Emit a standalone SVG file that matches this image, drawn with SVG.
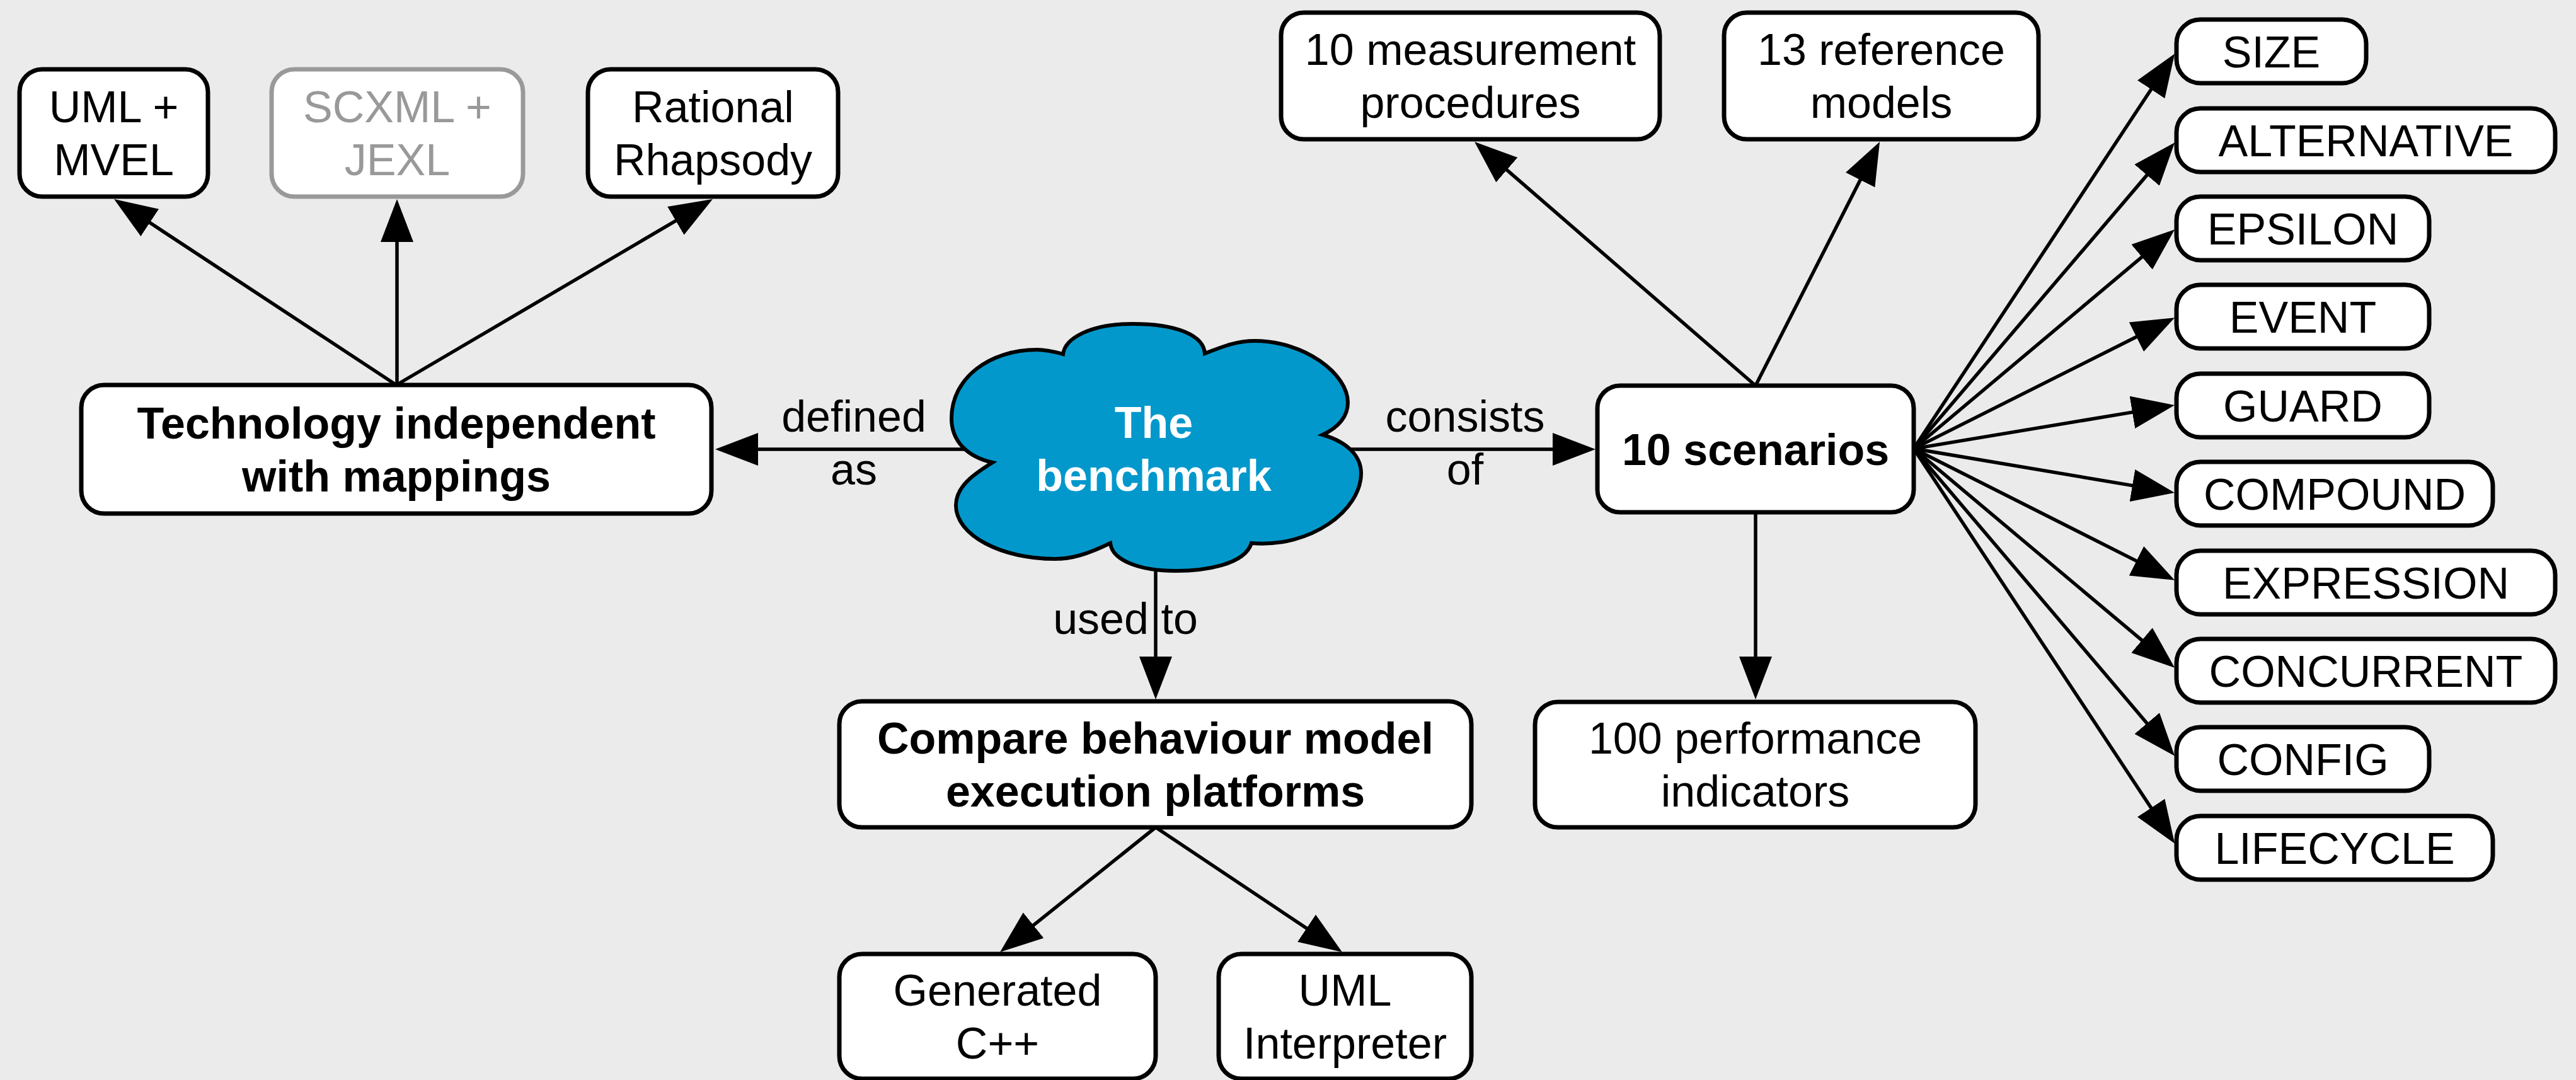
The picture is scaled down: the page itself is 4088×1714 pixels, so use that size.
<svg xmlns="http://www.w3.org/2000/svg" width="4088" height="1714" viewBox="0 0 4088 1714">
<defs>
<style>
.bg{fill:#EBEBEB}
.box{fill:#FFFFFF;stroke:#000;stroke-width:7}
.gbox{fill:#FFFFFF;stroke:#999;stroke-width:7}
.cloud{fill:#0398CC;stroke:#000;stroke-width:6}
.ln{fill:none;stroke:#000;stroke-width:5.5;marker-end:url(#ah)}
text{font-family:"Liberation Sans",Arial,Helvetica,sans-serif;font-size:70px;fill:#000;text-anchor:middle}
.b{font-weight:bold}
.g{fill:#999}
.w{fill:#FFFFFF;font-weight:bold}
</style>
<marker id="ah" markerUnits="userSpaceOnUse" markerWidth="70" markerHeight="54" viewBox="0 -27 70 54" refX="2" refY="0" orient="auto">
<path d="M0,-26 L68,0 L0,26 Z" fill="#000"/>
</marker>
</defs>
<rect class="bg" x="0" y="0" width="4088" height="1714"/>

<g id="connectors">
<line class="ln" x1="629" y1="611" x2="236.1" y2="352.3"/>
<line class="ln" x1="630" y1="611" x2="630" y2="382"/>
<line class="ln" x1="629" y1="611" x2="1074.1" y2="349.4"/>
<line class="ln" x1="1540" y1="713" x2="1201" y2="713"/>
<line class="ln" x1="2130" y1="713" x2="2466" y2="713"/>
<line class="ln" x1="1834" y1="890" x2="1834" y2="1044"/>
<line class="ln" x1="1834" y1="1313" x2="1638.5" y2="1469.7"/>
<line class="ln" x1="1834" y1="1313" x2="2075.1" y2="1474.3"/>
<line class="ln" x1="2786" y1="612" x2="2389.8" y2="268.3"/>
<line class="ln" x1="2786" y1="612" x2="2953.1" y2="283.8"/>
<line class="ln" x1="2786" y1="813" x2="2786" y2="1044"/>
<line class="ln" x1="3037" y1="712" x2="3414.8" y2="140.2"/>
<line class="ln" x1="3037" y1="712" x2="3408.4" y2="276.4"/>
<line class="ln" x1="3037" y1="712" x2="3400.6" y2="406.6"/>
<line class="ln" x1="3037" y1="712" x2="3392.1" y2="533.8"/>
<line class="ln" x1="3037" y1="712" x2="3385.9" y2="653.9"/>
<line class="ln" x1="3037" y1="712" x2="3385.9" y2="770.9"/>
<line class="ln" x1="3037" y1="712" x2="3392.2" y2="891.1"/>
<line class="ln" x1="3037" y1="712" x2="3400.6" y2="1017.4"/>
<line class="ln" x1="3037" y1="712" x2="3408.5" y2="1149.5"/>
<line class="ln" x1="3037" y1="712" x2="3414.8" y2="1283.8"/>
<text x="1355" y="685">defined</text>
<text x="1355" y="769">as</text>
<text x="2325" y="685">consists</text>
<text x="2325" y="769">of</text>
<text x="1786" y="1006">used to</text>
</g>

<g id="node-uml-mvel">
<rect class="box" x="31" y="110" width="299" height="202" rx="36"/>
<text x="180.5" y="194">UML +</text>
<text x="180.5" y="278">MVEL</text>
</g>
<g id="node-scxml-jexl">
<rect class="gbox" x="431" y="110" width="399" height="202" rx="36"/>
<text class="g" x="630.5" y="194">SCXML +</text>
<text class="g" x="630.5" y="278">JEXL</text>
</g>
<g id="node-rational-rhapsody">
<rect class="box" x="933" y="110" width="397" height="202" rx="36"/>
<text x="1131.5" y="194">Rational</text>
<text x="1131.5" y="278">Rhapsody</text>
</g>
<g id="node-technology">
<rect class="box" x="129" y="611" width="1000" height="204" rx="36"/>
<text class="b" x="629" y="696">Technology independent</text>
<text class="b" x="629" y="780">with mappings</text>
</g>
<g id="node-benchmark">
<path class="cloud" d="M1687,562 C1690,537 1730,514 1797,514 C1870,514 1910,533 1912,561 C1945,548 1965,541 1991,541 C2070,541 2139,593 2139,639 C2139,660 2125,678 2099,690 C2140,702 2160,725 2160,751 C2160,810 2080,870 1986,862 C1975,897 1910,906 1866,906 C1810,906 1765,890 1762,862 C1725,880 1700,887 1674,887 C1590,887 1517,850 1517,802 C1517,770 1550,750 1575,734 C1535,725 1510,700 1510,664 C1510,600 1570,555 1646,555 C1662,555 1676,559 1687,562 Z"/>
<text class="w" x="1831" y="695">The</text>
<text class="w" x="1831" y="779">benchmark</text>
</g>
<g id="node-compare">
<rect class="box" x="1332" y="1113" width="1003" height="200" rx="36"/>
<text class="b" x="1833.5" y="1196">Compare behaviour model</text>
<text class="b" x="1833.5" y="1280">execution platforms</text>
</g>
<g id="node-generated">
<rect class="box" x="1332" y="1514" width="502" height="198" rx="36"/>
<text x="1583" y="1596">Generated</text>
<text x="1583" y="1680">C++</text>
</g>
<g id="node-uml-interpreter">
<rect class="box" x="1934" y="1514" width="401" height="198" rx="36"/>
<text x="2134.5" y="1596">UML</text>
<text x="2134.5" y="1680">Interpreter</text>
</g>
<g id="node-scenarios">
<rect class="box" x="2535" y="612" width="502" height="201" rx="36"/>
<text class="b" x="2786" y="738">10 scenarios</text>
</g>
<g id="node-performance">
<rect class="box" x="2436" y="1114" width="699" height="199" rx="36"/>
<text x="2785.5" y="1196">100 performance</text>
<text x="2785.5" y="1280">indicators</text>
</g>
<g id="node-measurement">
<rect class="box" x="2033" y="20" width="601" height="201" rx="36"/>
<text x="2333.5" y="103">10 measurement</text>
<text x="2333.5" y="187">procedures</text>
</g>
<g id="node-reference">
<rect class="box" x="2736" y="20" width="499" height="201" rx="36"/>
<text x="2985.5" y="103">13 reference</text>
<text x="2985.5" y="187">models</text>
</g>
<g id="node-size">
<rect class="box" x="3454" y="31" width="301" height="101" rx="38"/>
<text x="3604.5" y="107">SIZE</text>
</g>
<g id="node-alternative">
<rect class="box" x="3454" y="172" width="601" height="101" rx="38"/>
<text x="3754.5" y="248">ALTERNATIVE</text>
</g>
<g id="node-epsilon">
<rect class="box" x="3454" y="312" width="401" height="101" rx="38"/>
<text x="3654.5" y="388">EPSILON</text>
</g>
<g id="node-event">
<rect class="box" x="3454" y="452" width="401" height="101" rx="38"/>
<text x="3654.5" y="528">EVENT</text>
</g>
<g id="node-guard">
<rect class="box" x="3454" y="593" width="401" height="101" rx="38"/>
<text x="3654.5" y="669">GUARD</text>
</g>
<g id="node-compound">
<rect class="box" x="3454" y="733" width="502" height="101" rx="38"/>
<text x="3705" y="809">COMPOUND</text>
</g>
<g id="node-expression">
<rect class="box" x="3454" y="874" width="601" height="101" rx="38"/>
<text x="3754.5" y="950">EXPRESSION</text>
</g>
<g id="node-concurrent">
<rect class="box" x="3454" y="1014" width="601" height="101" rx="38"/>
<text x="3754.5" y="1090">CONCURRENT</text>
</g>
<g id="node-config">
<rect class="box" x="3454" y="1154" width="401" height="101" rx="38"/>
<text x="3654.5" y="1230">CONFIG</text>
</g>
<g id="node-lifecycle">
<rect class="box" x="3454" y="1295" width="502" height="101" rx="38"/>
<text x="3705" y="1371">LIFECYCLE</text>
</g>
</svg>
